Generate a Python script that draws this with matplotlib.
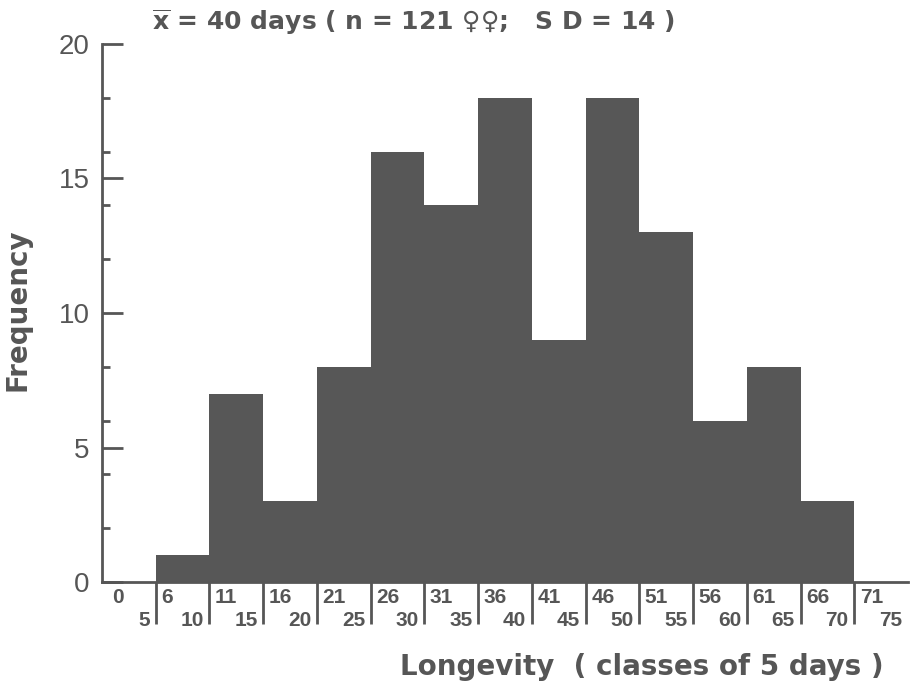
import numpy as np
import matplotlib
matplotlib.use('Agg')
import matplotlib.pyplot as plt

# longevity classes (days) and number of females per class
class_start = [0, 6, 11, 16, 21, 26, 31, 36, 41, 46, 51, 56, 61, 66, 71]
class_end = [5, 10, 15, 20, 25, 30, 35, 40, 45, 50, 55, 60, 65, 70, 75]
frequency = [0, 1, 7, 3, 8, 16, 14, 18, 9, 18, 13, 6, 8, 3, 0]

y_major = [0, 5, 10, 15, 20]
y_minor = [2, 4, 6, 8, 12, 14, 16, 18]

INK = '#565656'
BAR = '#575757'

plt.rcParams['mathtext.fontset'] = 'custom'
plt.rcParams['mathtext.rm'] = 'DejaVu Sans:bold'

fig = plt.figure(figsize=(9.13, 6.93), dpi=100, facecolor='white')
ax = fig.add_axes([102 / 913, 1 - 582 / 693, 806 / 913, 538 / 693])

left_edges = [e - 5 for e in class_end]
ax.bar(left_edges, frequency, width=5, align='edge', color=BAR, linewidth=0)

ax.set_xlim(0, 75)
ax.set_ylim(0, 20)

for side in ('top', 'right'):
    ax.spines[side].set_visible(False)
for side in ('left', 'bottom'):
    ax.spines[side].set_color(INK)
    ax.spines[side].set_linewidth(2)

# y axis: inward ticks, majors every 5, minors in between
ax.set_yticks(y_major)
ax.set_yticks(y_minor, minor=True)
ax.set_yticklabels([str(v) for v in y_major])
ax.tick_params(axis='y', which='major', direction='in', length=15, width=2,
               color=INK, pad=9, labelsize=20, labelcolor=INK)
ax.tick_params(axis='y', which='minor', direction='in', length=6, width=2,
               color=INK)
for lbl in ax.get_yticklabels():
    lbl.set_family(['Liberation Sans', 'DejaVu Sans'])

# x axis: class separators hang below the baseline, labels drawn by hand
ax.set_xticks(class_end[:-1])
ax.set_xticklabels([])
ax.tick_params(axis='x', which='major', direction='out', length=30, width=2,
               color=INK)

for s, e in zip(class_start, class_end):
    ax.annotate(str(s), xy=(e - 5, 0), xytext=(4 if s else 7, -4),
                textcoords='offset points', ha='left', va='top',
                fontsize=15, fontweight='bold', color=INK,
                family=['Liberation Sans', 'DejaVu Sans'])
    ax.annotate(str(e), xy=(e, 0), xytext=(-4, -21),
                textcoords='offset points', ha='right', va='top',
                fontsize=15, fontweight='bold', color=INK,
                family=['Liberation Sans', 'DejaVu Sans'])

fig.text(152 / 913, 1 - 22 / 693,
         r'$\overline{\mathrm{x}}$ = 40 days ( n = 121 ♀♀;   S D = 14 )',
         ha='left', va='center', fontsize=18, fontweight='bold', color=INK,
         family=['DejaVu Sans'])

fig.text(18 / 913, 1 - 310 / 693, 'Frequency', rotation=90,
         ha='center', va='center', fontsize=20, fontweight='bold', color=INK,
         family=['DejaVu Sans'])

fig.text(642 / 913, 1 - 667 / 693, 'Longevity  ( classes of 5 days )',
         ha='center', va='center', fontsize=20, fontweight='bold', color=INK,
         family=['DejaVu Sans'])

fig.savefig('out.png', dpi=100, facecolor='white')
